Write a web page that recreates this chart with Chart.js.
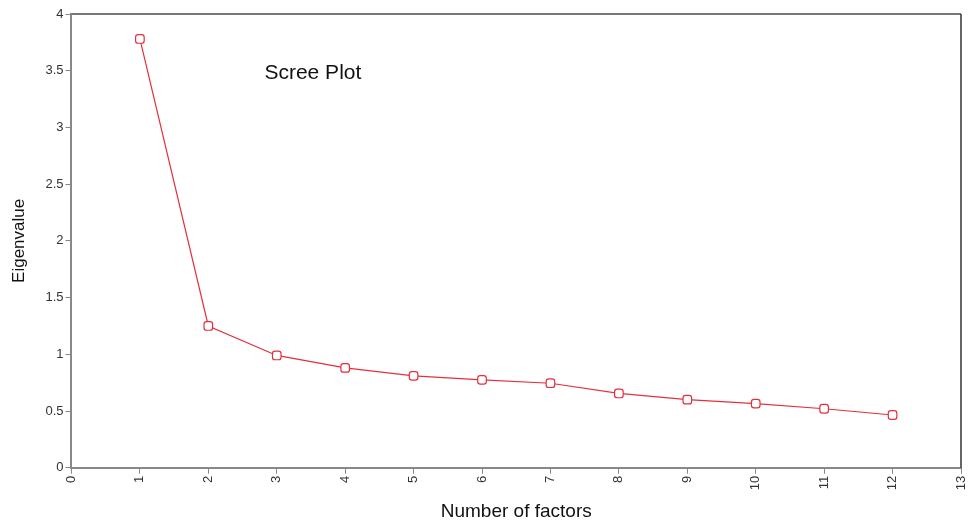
<!DOCTYPE html>
<html>
<head>
<meta charset="utf-8">
<script src="https://cdn.jsdelivr.net/npm/chart.js@4/dist/chart.umd.min.js"></script>
<style>
  html, body { margin: 0; padding: 0; background: #fff; }
  #wrap { width: 971px; height: 523px; }
</style>
</head>
<body>
<div id="wrap"><canvas id="scree"></canvas></div>
<script>
// values
var factors = [1, 2, 3, 4, 5, 6, 7, 8, 9, 10, 11, 12];
var eigenvalues = [3.78, 1.25, 0.99, 0.88, 0.81, 0.775, 0.745, 0.655, 0.60, 0.565, 0.52, 0.465];
var xTicks = [0, 1, 2, 3, 4, 5, 6, 7, 8, 9, 10, 11, 12, 13];
var yTicks = [0, 0.5, 1, 1.5, 2, 2.5, 3, 3.5, 4];
var plotLabel = 'Scree Plot';

var points = factors.map(function (f, i) {
	return { x: f, y: eigenvalues[i] };
});

// frame on top/right + the "Scree Plot" text inside the plot
var framePlugin = {
	id: 'frame',
	afterDraw: function (chart) {
		var ctx = chart.ctx, a = chart.chartArea;
		ctx.save();
		ctx.strokeStyle = '#777';
		ctx.lineWidth = 2;
		ctx.beginPath();
		ctx.moveTo(a.left, a.top);
		ctx.lineTo(a.right, a.top);
		ctx.stroke();
		ctx.strokeStyle = '#333';
		ctx.lineWidth = 1.5;
		ctx.beginPath();
		ctx.moveTo(a.right, a.top);
		ctx.lineTo(a.right, a.bottom);
		ctx.stroke();

		var sx = chart.scales.x.getPixelForValue(2.82);
		var sy = chart.scales.y.getPixelForValue(3.475);
		ctx.fillStyle = '#111';
		ctx.font = '21px "Liberation Sans", Arial, sans-serif';
		ctx.textAlign = 'left';
		ctx.textBaseline = 'middle';
		ctx.fillText(plotLabel, sx, sy);
		ctx.restore();
	}
};

Chart.defaults.font.family = '"Liberation Sans", Arial, sans-serif';

var el = document.getElementById('scree');
var screeChart = new Chart(el, {
	type: 'line',
	data: {
		datasets: [{
			label: 'Eigenvalue',
			data: points,
			borderColor: '#e2313d',
			borderWidth: 1.2,
			backgroundColor: '#fff',
			pointStyle: 'rectRounded',
			pointRadius: 5,
			pointBorderColor: '#e2313d',
			pointBorderWidth: 1.2,
			tension: 0
		}]
	},
	options: {
		responsive: true,
		maintainAspectRatio: false,
		animation: false,
		layout: { padding: { top: 14, right: 10, left: 9, bottom: 0 } },
		plugins: {
			legend: { display: false },
			tooltip: { enabled: false }
		},
		scales: {
			x: {
				type: 'linear',
				min: 0,
				max: 13,
				afterBuildTicks: function (scale) {
					scale.ticks = xTicks.map(function (v) { return { value: v }; });
				},
				afterFit: function (scale) {
					// the rotated "13" fits in the right margin, no extra room needed
					scale.paddingRight = 0;
				},
				grid: { drawOnChartArea: false, drawTicks: true, tickLength: 6, color: '#888' },
				border: { color: '#888', width: 2 },
				ticks: {
					minRotation: 90,
					maxRotation: 90,
					autoSkip: false,
					color: '#333',
					padding: 2,
					font: { size: 13 },
					callback: function (v) { return String(v); }
				},
				title: {
					display: true,
					text: 'Number of factors',
					color: '#111',
					font: { size: 19 },
					padding: { top: 8, bottom: 0 }
				}
			},
			y: {
				min: 0,
				max: 4,
				afterBuildTicks: function (scale) {
					scale.ticks = yTicks.map(function (v) { return { value: v }; });
				},
				grid: { drawOnChartArea: false, drawTicks: true, tickLength: 6, color: '#888' },
				border: { color: '#888', width: 2 },
				ticks: {
					color: '#333',
					padding: 2,
					font: { size: 13 },
					callback: function (v) { return String(v); }
				},
				title: {
					display: true,
					text: 'Eigenvalue',
					color: '#111',
					font: { size: 17 },
					padding: { top: 0, bottom: 14 }
				}
			}
		}
	},
	plugins: [framePlugin]
});
</script>
</body>
</html>
